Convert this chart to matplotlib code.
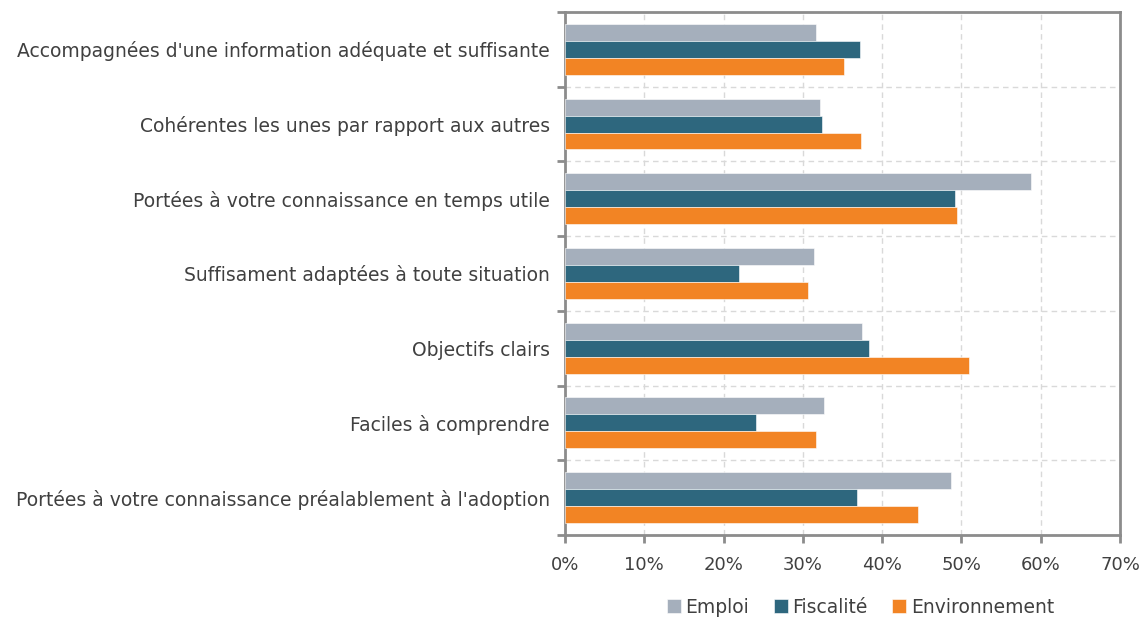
import matplotlib.pyplot as plt
import numpy as np

# categories listed top to bottom
categories = [
    "Accompagnées d'une information adéquate et suffisante",
    "Cohérentes les unes par rapport aux autres",
    "Portées à votre connaissance en temps utile",
    "Suffisament adaptées à toute situation",
    "Objectifs clairs",
    "Faciles à comprendre",
    "Portées à votre connaissance préalablement à l'adoption",
]
emploi = [31.7, 32.2, 58.8, 31.4, 37.5, 32.7, 48.7]
fiscalite = [37.2, 32.4, 49.2, 22.0, 38.4, 24.1, 36.8]
environnement = [35.2, 37.3, 49.5, 30.7, 51.0, 31.6, 44.5]
series_names = ["Emploi", "Fiscalité", "Environnement"]
colors = ["#A5AFBC", "#2E677E", "#F28424"]
xticks = [0, 10, 20, 30, 40, 50, 60, 70]

plt.rcParams['font.family'] = ['DejaVu Sans']
txt = "#404040"

fig = plt.figure(figsize=(11.41, 6.21), dpi=100)
ax = fig.add_axes([0.4952, 0.1385, 0.9816 - 0.4952, 0.9807 - 0.1385])

n = len(categories)
y = np.arange(n)[::-1].astype(float)
h = 0.227
for i, (vals, name, c) in enumerate(zip([emploi, fiscalite, environnement], series_names, colors)):
    ax.barh(y + (1 - i) * h, vals, height=h, color=c, edgecolor="white",
            linewidth=0.4, label=name, zorder=3)

ax.set_xlim(0, 70)
ax.set_ylim(-0.5, n - 0.5)
ax.set_xticks(xticks)
ax.set_xticklabels([f"{v}%" for v in xticks], color=txt, fontsize=13)
ax.set_yticks(y)
ax.set_yticklabels(categories, color=txt, fontsize=13.5)
ax.tick_params(axis="y", length=0, pad=11)
ax.tick_params(axis="x", length=6, width=2, color="#8c8c8c", pad=9)

# category boundary ticks and grid
bounds = np.arange(n + 1) - 0.5
ax.set_yticks(bounds, minor=True)
ax.tick_params(axis="y", which="minor", length=6, width=2, color="#8c8c8c")
ax.grid(axis="y", which="minor", linestyle=(0, (4, 3)), color="#d9d9d9", linewidth=1, zorder=0)
ax.grid(axis="x", which="major", linestyle=(0, (4, 3)), color="#d9d9d9", linewidth=1, zorder=0)

for s in ax.spines.values():
    s.set_color("#8c8c8c")
    s.set_linewidth(2)

handles, labels = ax.get_legend_handles_labels()
fig.legend(handles, labels, loc="center", bbox_to_anchor=(0.754, 0.022), ncol=3,
           frameon=False, fontsize=13.5, handlelength=0.75, handleheight=0.75,
           handletextpad=0.25, columnspacing=1.3, labelcolor=txt)

plt.savefig("out.png", dpi=100)
